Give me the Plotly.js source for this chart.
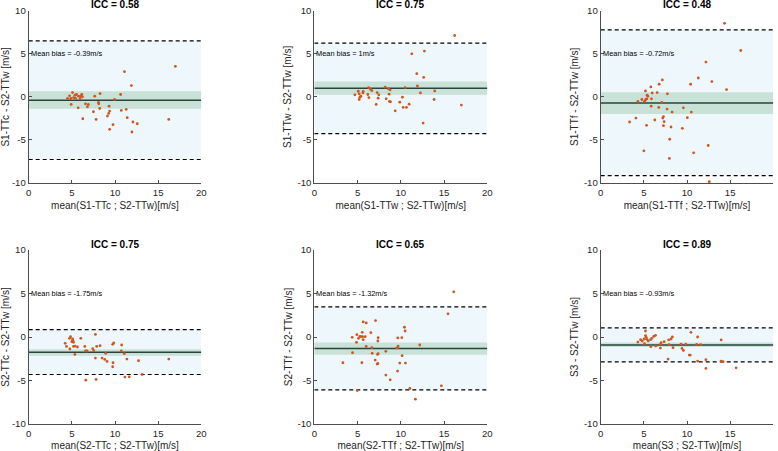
<!DOCTYPE html>
<html>
<head>
<meta charset="utf-8">
<script src="https://cdn.plot.ly/plotly-3.0.1.min.js"></script>
<style>html,body{margin:0;padding:0;background:#fff;}#chart{width:778px;height:451px;}</style>
</head>
<body>
<div id="chart"></div>
<script>
// ---- data ----
const p1x = [17.0,11.1,11.9,4.5,4.73,4.88,5.08,5.2,5.35,5.42,5.54,5.77,5.96,6.04,6.15,6.23,4.92,5.73,6.27,6.58,6.81,6.92,7.65,8.27,8.08,8.12,8.23,7.5,7.81,9.31,9.38,9.27,9.12,9.96,10.65,10.73,11.3,11.42,9.77,9.38,12.08,12.58,11.96,16.23];
const p1y = [3.54,2.92,1.31,-0.19,0.12,-0.19,0.5,-0.08,0.19,-0.15,0.27,0.08,-0.19,0.12,0.27,0,-0.88,-1.27,-2.54,-0.81,-1.15,-0.88,0.08,0.38,-0.65,-0.81,-1.35,-1.73,-2.62,-1.08,-1.65,-1.92,-2.23,-0.31,0.27,-1.58,-1.46,-2.42,-3.23,-3.77,-2.92,-3.12,-4.08,-2.62];

const p2x = [16.23,11.27,12.73,11.85,12.65,4.69,5.08,5.19,5.27,5.19,5.38,5.62,5.65,6.19,6.27,6.31,6.5,6.65,7.15,7.27,7.38,7.46,8.19,8.31,8.58,8.77,8.65,8.69,8.81,9.35,9.88,10.19,10.5,10.27,10.65,10.96,11.92,12.27,12.58,13.85,13.92,17.0];
const p2y = [7.12,5.0,5.31,2.69,2.27,0.23,0.65,0.35,-0.04,-0.31,0.08,0.46,0.62,0.27,1.08,-0.08,0.88,0.73,-0.88,0.5,-0.15,0.23,1.12,-0.23,0.92,0.81,0.31,-0.54,-0.58,-1.62,-0.62,-0.04,1.08,-1.23,-1.23,-0.85,1.27,0.46,-3.04,-0.31,0.69,-0.96];

const p3x = [14.35,16.23,12.19,11.31,12.88,10.42,14.58,7.15,6.77,5.81,5.19,5.96,6.54,7.73,5.38,5.46,4.77,4.31,5.08,5.23,5.35,5.88,7.08,5.85,6.73,7.69,8.27,9.58,10.5,10.04,7.27,7.19,7.35,6.27,4.08,3.35,5.31,7.27,8.15,9.46,8.0,5.0,7.96,12.46,10.77,12.58];
const p3y = [8.54,5.38,4.04,2.19,1.77,1.46,0.85,1.96,1.46,1.15,0.69,0.46,0.5,0.35,0.19,0.08,-0.31,-0.54,-0.5,-0.31,-0.23,-0.23,-0.65,-1.08,-1.23,-1.42,-1.77,-1.27,-1.77,-2.42,-2.31,-2.46,-2.88,-2.69,-2.46,-2.92,-3.31,-3.35,-3.5,-3.65,-4.92,-6.27,-7.15,-5.65,-6.5,-9.85];

const p4x = [7.73,4.85,4.73,5.08,5.12,5.0,5.19,6.04,4.23,4.38,4.77,5.19,5.38,5.65,5.35,6.5,6.58,6.77,7.42,7.54,7.88,8.27,8.92,9.73,9.85,10.77,11.08,10.73,7.73,8.5,8.81,9.08,9.77,9.73,11.38,12.73,16.23,6.62,7.81,11.15,11.65,13.15];
const p4y = [0.3,0.04,-0.15,-0.23,-0.38,-0.54,-0.61,-0.15,-0.73,-1.08,-1.38,-1.08,-1.04,-1.15,-2.0,-1.08,-1.61,-1.61,-1.34,-1.58,-1.08,-1.0,-1.88,-0.84,-0.69,-0.92,-1.92,-1.61,-2.42,-2.42,-2.58,-2.81,-2.96,-3.42,-2.54,-2.73,-2.54,-4.96,-4.88,-4.61,-4.58,-4.31];

const p5x = [16.12,15.46,5.65,6.0,7.08,10.42,10.5,5.54,4.38,4.92,5.12,5.27,5.42,5.58,5.65,5.88,4.88,6.54,7.38,7.35,6.0,6.65,4.42,3.31,5.5,6.69,7.31,7.38,7.04,7.27,7.35,8.27,9.62,9.5,9.69,9.65,10.12,12.19,10.15,9.88,10.54,9.62,8.27,8.77,4.96,11.04,11.69,14.69];
const p5y = [5.19,2.66,1.73,1.62,1.89,1.12,0.69,0.54,-0.04,0.27,-0.15,0.08,0.04,0.04,-0.31,0.04,-0.61,0.5,-0.08,-0.46,-1.08,-1.23,-1.81,-2.96,-2.96,-1.88,-2.0,-1.92,-2.65,-3.11,-3.04,-1.65,-1.23,-1.27,-1.04,-0.11,-0.08,-0.92,-2.15,-3.0,-3.0,-3.92,-4.38,-4.92,-6.15,-5.92,-7.15,-5.61];

const p6x = [5.19,5.19,4.31,4.62,4.81,5.04,5.27,5.35,5.5,5.77,5.92,6.15,6.35,5.08,5.81,6.38,6.92,7.0,7.35,6.92,7.88,8.15,8.31,7.92,8.38,7.81,9.31,9.85,9.42,9.58,10.27,10.38,10.46,11.23,11.58,11.12,11.23,12.19,12.19,13.96,13.96,14.19,15.69];
const p6y = [0.69,0.16,-0.58,-0.31,-0.46,-0.23,-0.04,-0.27,-0.46,-0.31,-0.15,0.08,0.19,-0.77,-1.11,-1.04,-0.84,-0.65,-0.54,-1.27,-0.34,-0.23,0.0,-0.88,-1.23,-2.54,-0.81,-0.81,-1.31,-1.54,-2.08,-2.08,0.54,0.0,-0.88,-0.84,-2.77,-2.61,-3.61,-0.34,-2.77,-2.84,-3.54];

const iccValues  = [0.58, 0.75, 0.48, 0.75, 0.65, 0.89];
const biasValues = [-0.39, 1, -0.72, -1.75, -1.32, -0.93];
const biasLabels = ['-0.39', '1', '-0.72', '-1.75', '-1.32', '-0.93'];
const loaUpper   = [6.5, 6.23, 7.77, 0.85, 3.46, 1.04];
const loaLower   = [-7.27, -4.27, -9.15, -4.31, -6.08, -2.85];
const ciUpper    = [0.65, 1.77, 0.54, -1.42, -0.62, -0.62];
const ciLower    = [-1.38, 0.23, -2.0, -2.15, -2.04, -1.15];

const xTitles = ['mean(S1-TTc ; S2-TTw)[m/s]', 'mean(S1-TTw ; S2-TTw)[m/s]', 'mean(S1-TTf ; S2-TTw)[m/s]',
                 'mean(S2-TTc ; S2-TTw)[m/s]', 'mean(S2-TTf ; S2-TTw)[m/s]', 'mean(S3 ; S2-TTw)[m/s]'];
const yTitles = ['S1-TTc - S2-TTw [m/s]', 'S1-TTw - S2-TTw [m/s]', 'S1-TTf - S2-TTw [m/s]',
                 'S2-TTc - S2-TTw [m/s]', 'S2-TTf - S2-TTw [m/s]', 'S3 - S2-TTw [m/s]'];
const xTickVals = [0, 5, 10, 15, 20];
const xTickText = ['0', '5', '10', '15', '20'];
const yTickVals = [-10, -5, 0, 5, 10];
const yTickText = ['-10', '-5', '0', '5', '10'];
const xRange = [0, 20];
const yRange = [-10, 10];

// ---- layout helpers (positions in pixels of the 778x451 page) ----
const W = 778, H = 451;
const colPx = [[28.7, 201.3], [314.3, 487.3], [600.7, 773.3]];
const rowPx = [[10.7, 183], [250, 424]];
const titleY = [4.5, 244];

const xs = [p1x, p2x, p3x, p4x, p5x, p6x];
const ys = [p1y, p2y, p3y, p4y, p5y, p6y];

const FONT = 'Liberation Sans, Arial, Helvetica, sans-serif';
const axisCol = '#4d4d4d';
const traces = [], shapes = [], annotations = [];
const layout = {
  width: W, height: H,
  margin: {l: 0, r: 0, t: 0, b: 0},
  paper_bgcolor: '#ffffff', plot_bgcolor: 'rgba(0,0,0,0)',
  showlegend: false,
  font: {family: FONT, size: 9, color: '#262626'}
};

for (let i = 0; i < 6; i++) {
  const r = Math.floor(i / 3), c = i % 3;
  const n = i + 1;
  const xa = 'x' + (n === 1 ? '' : n), ya = 'y' + (n === 1 ? '' : n);
  const xd = [colPx[c][0] / W, colPx[c][1] / W];
  const yd = [1 - rowPx[r][1] / H, 1 - rowPx[r][0] / H];
  layout['xaxis' + (n === 1 ? '' : n)] = {
    domain: xd, anchor: ya, range: xRange,
    tickvals: xTickVals, ticktext: xTickText,
    ticks: 'inside', ticklen: 3, tickcolor: axisCol, tickwidth: 1,
    showline: true, linecolor: axisCol, linewidth: 1, mirror: false,
    showgrid: false, zeroline: false, automargin: false,
    tickfont: {family: FONT, size: 9.6, color: '#262626'},
    title: {text: xTitles[i], font: {family: FONT, size: 10, color: '#262626'}, standoff: 5}
  };
  layout['yaxis' + (n === 1 ? '' : n)] = {
    domain: yd, anchor: xa, range: yRange,
    tickvals: yTickVals, ticktext: yTickText,
    ticks: 'inside', ticklen: 3, tickcolor: axisCol, tickwidth: 1,
    showline: true, linecolor: axisCol, linewidth: 1, mirror: false,
    showgrid: false, zeroline: false, automargin: false,
    tickfont: {family: FONT, size: 9.6, color: '#262626'},
    title: {text: yTitles[i], font: {family: FONT, size: 10, color: '#262626'}, standoff: 3}
  };
  // limits of agreement region
  shapes.push({type: 'rect', xref: xa, yref: ya, x0: xRange[0], x1: xRange[1], y0: loaLower[i], y1: loaUpper[i],
               fillcolor: '#eef7fc', line: {width: 0}, layer: 'below'});
  // confidence band of the bias
  shapes.push({type: 'rect', xref: xa, yref: ya, x0: xRange[0], x1: xRange[1], y0: ciLower[i], y1: ciUpper[i],
               fillcolor: '#c8e2d8', line: {width: 0}, layer: 'below'});
  // bias line
  shapes.push({type: 'line', xref: xa, yref: ya, x0: xRange[0], x1: xRange[1], y0: biasValues[i], y1: biasValues[i],
               line: {color: '#2a433d', width: 1.5}, layer: 'below'});
  // limits of agreement (dashed)
  [loaUpper[i], loaLower[i]].forEach(v => shapes.push({type: 'line', xref: xa, yref: ya, x0: xRange[0], x1: xRange[1], y0: v, y1: v,
               line: {color: '#000000', width: 1.2, dash: '4px,3px'}, layer: 'below'}));
  traces.push({type: 'scatter', mode: 'markers', x: xs[i], y: ys[i], xaxis: xa, yaxis: ya,
               marker: {color: '#d0561f', size: 2.8, line: {width: 0}}, hoverinfo: 'x+y'});
  annotations.push({xref: xa, yref: ya, x: xRange[0], y: 5, xanchor: 'left', yanchor: 'middle', showarrow: false,
                    text: 'Mean bias = ' + biasLabels[i] + 'm/s', font: {family: FONT, size: 7.4, color: '#000'}});
  annotations.push({xref: 'paper', yref: 'paper', x: (xd[0] + xd[1]) / 2, y: 1 - titleY[r] / H, xanchor: 'center', yanchor: 'middle',
                    showarrow: false, text: '<b>ICC = ' + iccValues[i] + '</b>', font: {family: FONT, size: 10, color: '#000'}});
}
layout.shapes = shapes;
layout.annotations = annotations;
Plotly.newPlot('chart', traces, layout, {staticPlot: true, displayModeBar: false});
</script>
</body>
</html>
